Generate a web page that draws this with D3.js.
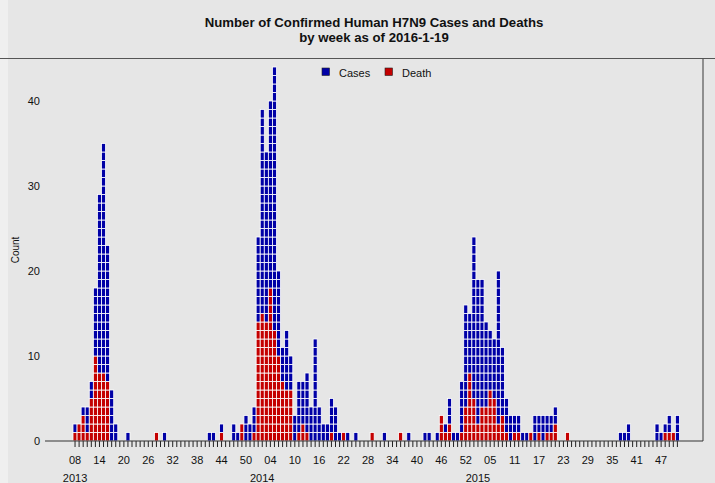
<!DOCTYPE html>
<html>
<head>
<meta charset="utf-8">
<script src="https://cdn.jsdelivr.net/npm/d3@7"></script>
<style>
  html, body { margin: 0; padding: 0; background: #e6e6e6; }
  svg { display: block; }
  text { font-family: "Liberation Sans", Arial, sans-serif; fill: #111; }
</style>
</head>
<body>
<svg id="chart" width="715" height="483"></svg>
<script>
// Weekly counts starting at 2013 week 08 (one entry per week)
const cases = [
  2, 2, 4, 4, 7, 18, 29, 35, 23, 6, 2, 0, 0, 1, 0, 0, 0, 0, 0, 0,
  1, 0, 1, 0, 0, 0, 0, 0, 0, 0, 0, 0, 0, 1, 1, 0, 2, 0, 0, 2,
  1, 2, 3, 2, 4, 24, 39, 34, 40, 44, 20, 11, 13, 10, 3, 7, 7, 8, 4, 12,
  4, 2, 2, 5, 4, 1, 1, 1, 0, 1, 0, 0, 0, 1, 0, 0, 1, 0, 0, 0,
  1, 0, 1, 0, 0, 0, 1, 1, 0, 1, 3, 2, 5, 1, 1, 7, 16, 15, 24, 19,
  19, 14, 13, 12, 20, 11, 5, 3, 3, 3, 1, 1, 1, 3, 3, 3, 3, 3, 4, 0,
  0, 1, 0, 0, 0, 0, 0, 0, 0, 0, 0, 0, 0, 0, 1, 1, 2, 0, 0, 0,
  0, 0, 0, 2, 1, 2, 3, 1, 3
];
const deaths = [
  1, 2, 3, 1, 5, 10, 8, 8, 7, 0, 0, 0, 0, 0, 0, 0, 0, 0, 0, 0,
  1, 0, 0, 0, 0, 0, 0, 0, 0, 0, 0, 0, 0, 0, 0, 0, 1, 0, 0, 0,
  0, 2, 0, 0, 1, 14, 15, 14, 18, 13, 10, 7, 6, 6, 0, 1, 2, 1, 0, 0,
  0, 0, 0, 1, 0, 0, 1, 0, 0, 0, 0, 0, 0, 1, 0, 0, 0, 0, 0, 0,
  1, 0, 0, 0, 0, 0, 0, 0, 0, 0, 3, 1, 2, 0, 0, 1, 4, 8, 5, 2,
  4, 4, 6, 5, 2, 3, 1, 0, 1, 1, 0, 0, 1, 0, 1, 0, 1, 1, 2, 0,
  0, 1, 0, 0, 0, 0, 0, 0, 0, 0, 0, 0, 0, 0, 0, 0, 0, 0, 0, 0,
  0, 0, 0, 0, 0, 1, 1, 1, 0
];

// Week-number labels, one every six weeks
const weekLabels = ["08","14","20","26","32","38","44","50","04","10","16","22","28",
                    "34","40","46","52","05","11","17","23","29","35","41","47"];
const weekLabelEvery = 6;
const yearLabels = ["2013", "2014", "2015"];
const yearLabelWeek = [0, 46, 99];
const yTicks = [0, 10, 20, 30, 40];

const titleLines = ["Number of Confirmed Human H7N9 Cases and Deaths", "by week as of 2016-1-19"];
const seriesNames = ["Cases", "Death"];
const colors = { cases: "#0000a6", death: "#c40000" };

const svg = d3.select("#chart");
const W = 715, H = 483;
const baseY = 441, topY = 58.5;

svg.append("rect").attr("width", W).attr("height", H).attr("fill", "#e6e6e6");
svg.append("rect").attr("width", 8).attr("height", H).attr("fill", "#efefef");

const weeks = d3.range(cases.length);
const x = d3.scaleBand().domain(weeks).range([73, 73 + 4.07 * cases.length]).padding(0);
const y = d3.scaleLinear().domain([0, 45]).range([baseY, topY]);

// Title
svg.append("g").selectAll("text").data(titleLines).join("text")
  .attr("x", 374).attr("y", (d, i) => 27 + i * 14.5)
  .attr("text-anchor", "middle")
  .attr("font-size", 13.2).attr("font-weight", "bold")
  .text(d => d);

// Frame: top rule and right edge
svg.append("line").attr("x1", 0).attr("x2", W).attr("y1", topY).attr("y2", topY)
  .attr("stroke", "#555").attr("stroke-width", 1.2);
svg.append("line").attr("x1", 703).attr("x2", 703).attr("y1", topY).attr("y2", baseY)
  .attr("stroke", "#555").attr("stroke-width", 1.2);

// Stacked unit cells: deaths at the bottom of each column, remaining cases above
const cells = [];
weeks.forEach(i => {
  for (let k = 0; k < cases[i]; k++) {
    cells.push({ week: i, level: k, dead: k < deaths[i] });
  }
});
svg.append("g").selectAll("rect").data(cells).join("rect")
  .attr("x", d => x(d.week))
  .attr("y", d => y(d.level + 1))
  .attr("width", x.bandwidth())
  .attr("height", y(0) - y(1))
  .attr("fill", d => d.dead ? colors.death : colors.cases)
  .attr("stroke", "#ffffff")
  .attr("stroke-width", 0.8);

// X axis: a tick for every week, labels every sixth week
const xAxis = d3.axisBottom(x)
  .tickSize(6)
  .tickFormat(i => i % weekLabelEvery === 0 ? weekLabels[i / weekLabelEvery] : "");
const gx = svg.append("g").attr("transform", `translate(0,${baseY})`).call(xAxis);
gx.select(".domain").remove();
gx.selectAll(".tick line").attr("stroke", "#222");
gx.selectAll(".tick text").attr("font-size", 11).attr("dy", "1.3em")
  .attr("font-family", "Liberation Sans, Arial, sans-serif").attr("fill", "#111");
svg.append("line").attr("x1", 45).attr("x2", 703).attr("y1", baseY).attr("y2", baseY)
  .attr("stroke", "#333").attr("stroke-width", 1.2);

// Year labels under the first week of each year
svg.append("g").selectAll("text").data(yearLabels).join("text")
  .attr("x", (d, i) => x(yearLabelWeek[i]) + x.bandwidth() / 2)
  .attr("y", 481.5)
  .attr("text-anchor", "middle")
  .attr("font-size", 11)
  .text(d => d);

// Y axis labels
const yAxis = d3.axisLeft(y).tickValues(yTicks).tickSize(0).tickPadding(0);
const gy = svg.append("g").attr("transform", "translate(40,0)").call(yAxis);
gy.select(".domain").remove();
gy.selectAll(".tick text").attr("font-size", 11)
  .attr("font-family", "Liberation Sans, Arial, sans-serif").attr("fill", "#111");

svg.append("text")
  .attr("transform", "translate(19,250) rotate(-90)")
  .attr("text-anchor", "middle")
  .attr("font-size", 10)
  .text("Count");

// Legend
const legend = svg.append("g");
const legendX = [322, 385];
const legendColors = [colors.cases, colors.death];
seriesNames.forEach((name, i) => {
  legend.append("rect").attr("x", legendX[i]).attr("y", 68)
    .attr("width", 7.5).attr("height", 7.5)
    .attr("fill", legendColors[i]).attr("stroke", "#222").attr("stroke-width", 0.6);
  legend.append("text").attr("x", legendX[i] + 17).attr("y", 76.5)
    .attr("font-size", 11).text(name);
});
</script>
</body>
</html>
